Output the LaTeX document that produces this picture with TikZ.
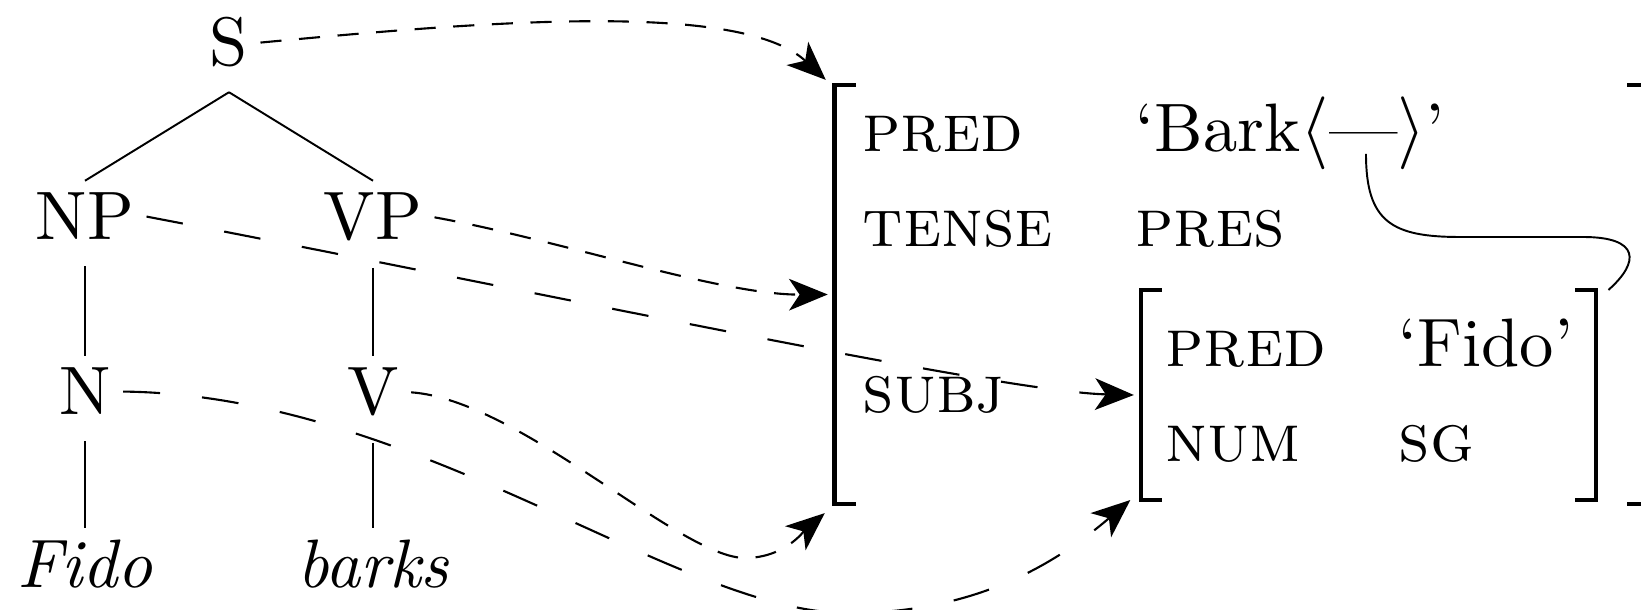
\documentclass[tikz,border=0pt]{standalone}
\usetikzlibrary{arrows.meta}
\DeclareFontFamily{TU}{lmten}{}
\DeclareFontShape{TU}{lmten}{m}{n}{<-> "[lmroman10-regular]:mapping=tex-text;"}{}
\DeclareFontShape{TU}{lmten}{m}{it}{<-> "[lmroman10-italic]:mapping=tex-text;"}{}
\DeclareFontShape{TU}{lmten}{m}{sc}{<-> "[lmromancaps10-regular]:mapping=tex-text;"}{}
\renewcommand\rmdefault{lmten}

\begin{document}
\begin{tikzpicture}[x=0.01cm, y=-0.01cm,
  every node/.style={font=\fontsize{19.5}{23}\selectfont},
  cat/.style={anchor=base},
  word/.style={anchor=base, font=\fontsize{19.5}{23}\selectfont\itshape},
  feat/.style={anchor=base west, inner sep=0pt, font=\fontsize{19.5}{23}\selectfont\scshape},
  val/.style={anchor=base west, inner sep=0pt},
  fs/.style={inner sep=0pt, outer sep=0pt},
  branch/.style={line width=0.55pt},
  brk/.style={line width=1.3pt},
  link/.style={line width=0.6pt, dash pattern=on 6pt off 5pt,
    -{Stealth[length=11pt, width=9pt, inset=3pt]}},
  longlink/.style={link, dash pattern=on 10.5pt off 12pt}]
  \useasboundingbox (0,0) rectangle (1641,610);
  \clip (0,0) rectangle (1641,610);
  % c-structure
  \node[cat] (S)  at (229,66)  {S};
  \node[cat] (NP) at (85,240)  {NP};
  \node[cat] (VP) at (373,240) {VP};
  \node[cat] (N)  at (85,415)  {N};
  \node[cat] (V)  at (373,415) {V};
  \node[word] (fido)  at (85,588)  {Fido};
  \node[word] (barks) at (373,588) {barks};
  \draw[branch] ([yshift=-3.5pt]S.south) -- (NP.north);
  \draw[branch] ([yshift=-3.5pt]S.south) -- (VP.north);
  \draw[branch, shorten <=4pt] (NP.south) -- (N.north);
  \draw[branch, shorten <=4pt] (VP.south) -- (V.north);
  \draw[branch, shorten <=4pt] (N.south) -- (fido.north);
  \draw[branch, shorten <=4pt] (V.south) -- (barks.north);
  % f-structures
  \node[fs, minimum width=8.13cm, minimum height=4.19cm] (outer) at (1241.5,294.5) {};
  \node[fs, minimum width=4.55cm, minimum height=2.10cm] (inner) at (1368.5,395) {};
  \foreach \f in {outer, inner} {
    \draw[brk] ([xshift=6pt]\f.north west) -| (\f.south west) -- ++(21,0);
    \draw[brk] ([xshift=-6pt]\f.north east) -| (\f.south east) -- ++(-21,0);
  }
  \node[feat] (pred)  at (862,152)  {pred};
  \node[val]  (bark)  at (1135,152) {‘Bark$\langle$—$\rangle$’};
  \node[feat] (tense) at (862,247)  {tense};
  \node[feat] (pres)  at (1135,247) {pres};
  \node[feat] (subj)  at (862,413)  {subj};
  \node[feat] (predb) at (1165,367) {pred};
  \node[val]  (fidov) at (1398,367) {‘Fido’};
  \node[feat] (num)   at (1165,462) {num};
  \node[feat] (sg)    at (1398,462) {sg};
  \coordinate (arg) at (1366,154);
  % mapping
  \draw[link] (S.east) .. controls (480,22) and (740,0) .. ([shift={(-9,-5)}]outer.north west);
  \draw[link] (VP.east) .. controls (560,240) and (720,295) .. ([xshift=-2pt]outer.west);
  \draw[longlink] (NP.east) .. controls (500,284) and (1000,392) .. ([xshift=-2pt]inner.west);
  \draw[link] (V.east) .. controls (520,400) and (680,558) .. (745,558)
    .. controls (785,558) and (805,530) .. ([shift={(-10,9)}]outer.south west);
  \draw[longlink] (N.east) .. controls (420,395) and (680,615) .. (850,613)
    .. controls (980,613) and (1060,560) .. ([xshift=-3pt]inner.south west);
  \draw[line width=0.55pt] (arg) .. controls (1366,222) and (1392,237) .. (1460,237) -- (1583,237)
    .. controls (1640,237) and (1640,262) .. ([xshift=3.5pt]inner.north east);
\end{tikzpicture}
\end{document}
